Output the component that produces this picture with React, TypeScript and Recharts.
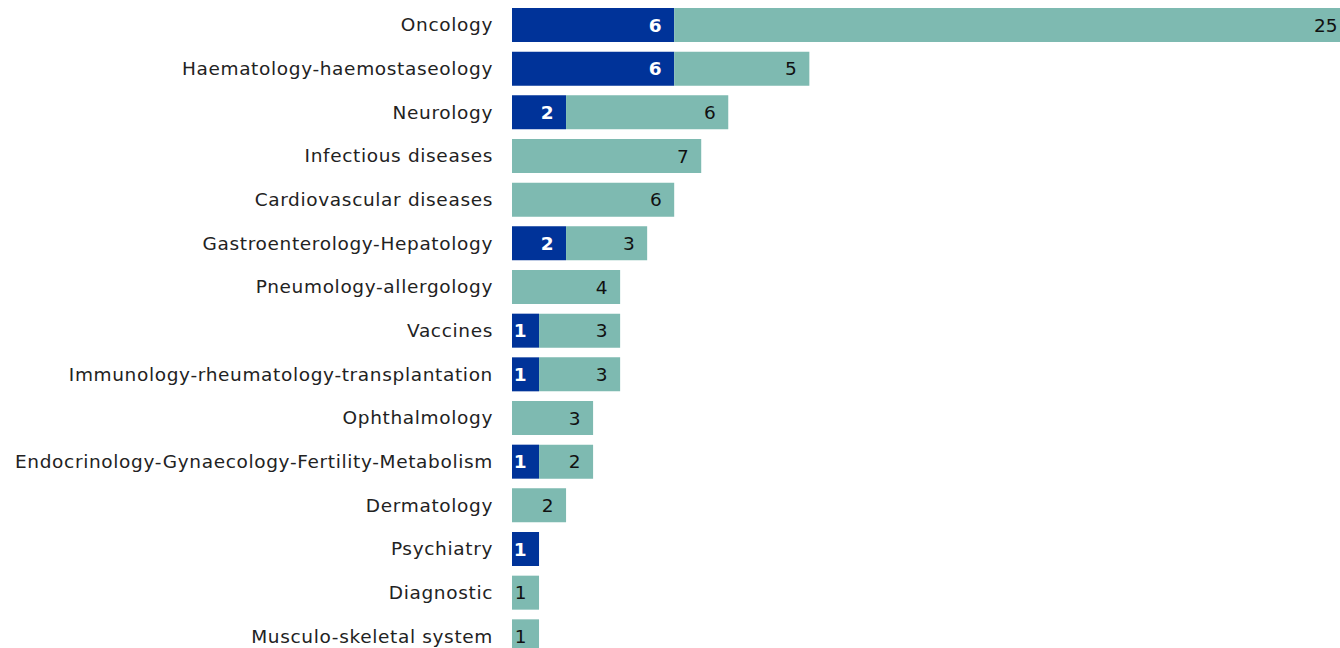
import React from 'react';
import { BarChart, Bar, XAxis, YAxis, LabelList } from 'recharts';

const areas = [
  'Oncology', 'Haematology-haemostaseology', 'Neurology', 'Infectious diseases',
  'Cardiovascular diseases', 'Gastroenterology-Hepatology', 'Pneumology-allergology',
  'Vaccines', 'Immunology-rheumatology-transplantation', 'Ophthalmology',
  'Endocrinology-Gynaecology-Fertility-Metabolism', 'Dermatology', 'Psychiatry',
  'Diagnostic', 'Musculo-skeletal system',
];
const blueCounts = [6, 6, 2, 0, 0, 2, 0, 1, 1, 0, 1, 0, 1, 0, 0];
const tealCounts = [25, 5, 6, 7, 6, 3, 4, 3, 3, 3, 2, 2, 0, 1, 1];

const data = areas.map((name, i) => ({ name, blue: blueCounts[i], teal: tealCounts[i] }));

const FONT = '"DejaVu Sans", sans-serif';

// value label right-aligned inside the segment end, hidden for zero
const endLabel = (fill: string, weight: string) => (props: any) => {
  const { x, y, width, height, value } = props;
  if (!value) return null;
  return (
    <text x={x + width - 12.5} y={y + height / 2} textAnchor="end" dominantBaseline="central"
      fill={fill} fontWeight={weight} fontSize={18.5} fontFamily={FONT}>
      {value}
    </text>
  );
};

export default function App() {
  return (
    <div style={{ position: 'absolute', left: 0, top: 0, width: 1340, height: 648, overflow: 'hidden', background: '#fff' }}>
      <BarChart width={1350} height={660} data={data} layout="vertical"
        margin={{ top: 3, right: 0, bottom: 2, left: 0 }}>
        <XAxis type="number" domain={[0, 31]} hide allowDataOverflow />
        <YAxis type="category" dataKey="name" width={512} axisLine={false} tickLine={false}
          tickSize={0} tickMargin={19} interval={0}
          tick={{ fill: '#222', fontSize: 18.5, fontFamily: FONT, letterSpacing: 0.65 }} />
        <Bar dataKey="blue" stackId="a" fill="#003399" barSize={34} isAnimationActive={false}>
          <LabelList dataKey="blue" content={endLabel('#fff', 'bold')} />
        </Bar>
        <Bar dataKey="teal" stackId="a" fill="#7ebab1" barSize={34} isAnimationActive={false}>
          <LabelList dataKey="teal" content={endLabel('#111', 'normal')} />
        </Bar>
      </BarChart>
    </div>
  );
}
